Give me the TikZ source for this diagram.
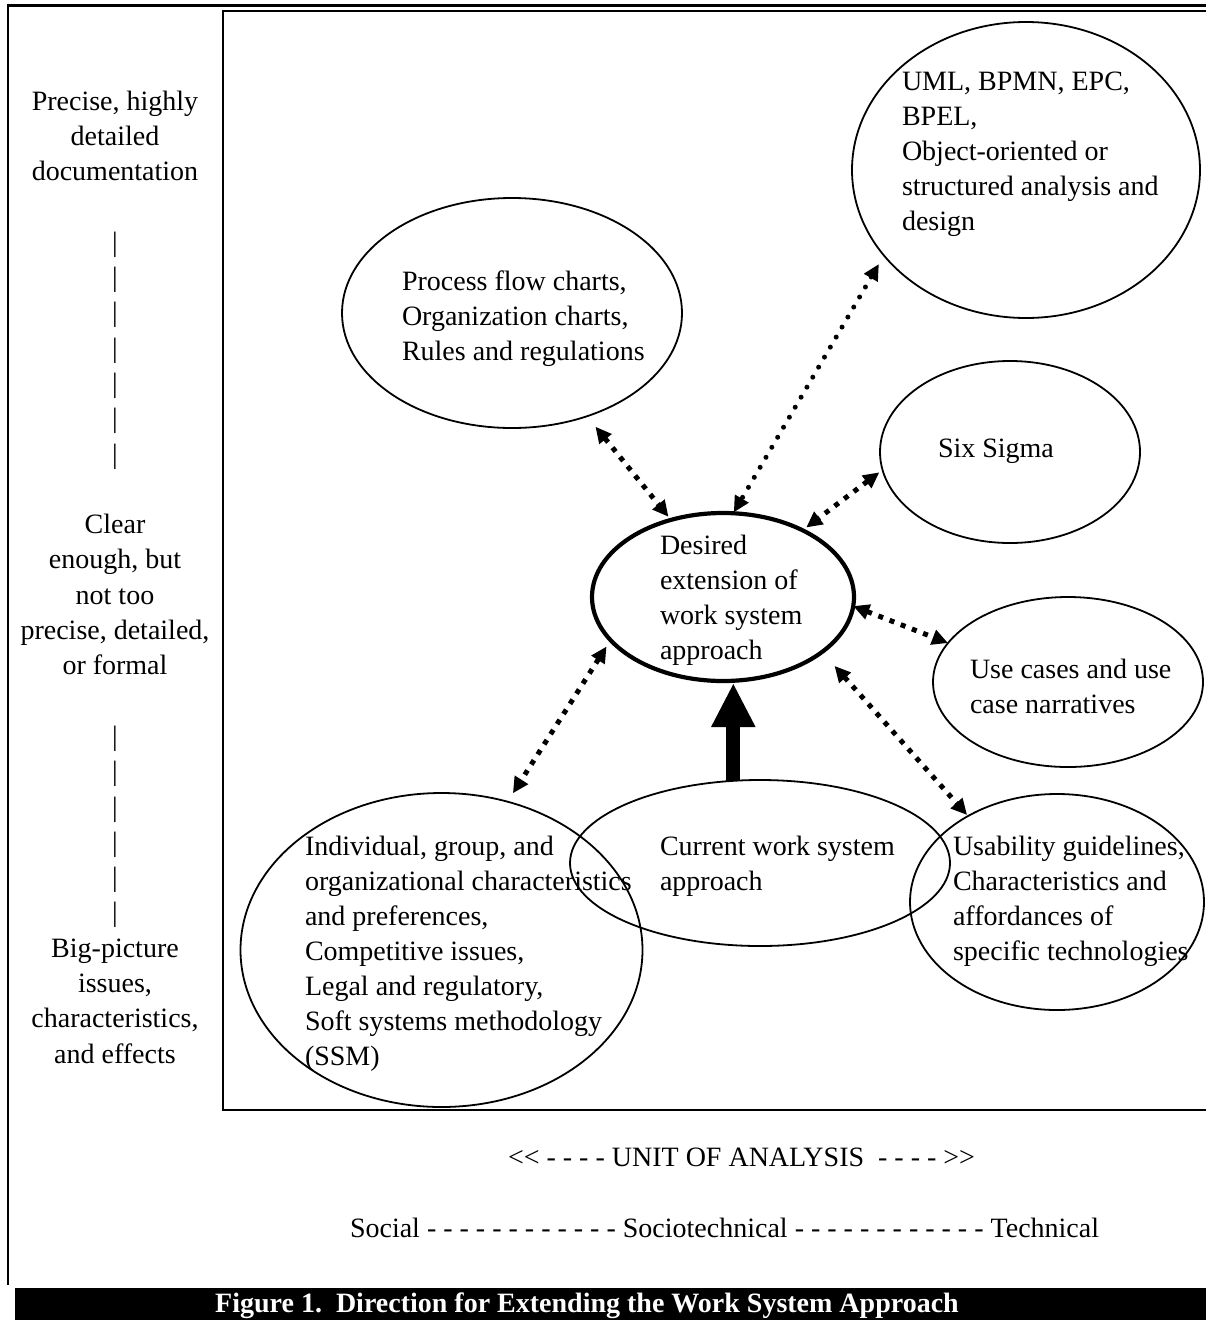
\documentclass[tikz,border=0pt]{standalone}
\usepackage{fontspec}
\setmainfont{Liberation Serif}[Ligatures=TeXOff]
\usetikzlibrary{arrows.meta,shapes.geometric}

\begin{document}
\begin{tikzpicture}[x=1pt,y=-1pt,
  every node/.style={inner sep=0pt,outer sep=0pt},
  % multi-line nodes sit on the baseline of their last line
  body/.style={font=\fontsize{28}{35}\selectfont,align=left,anchor=base west},
  side/.style={font=\fontsize{28}{35.3}\selectfont,align=center,anchor=base},
  oval/.style={ellipse,draw,line width=1.8pt},
  link/.style={line width=5pt,dash pattern=on 5pt off 7pt,
    {Triangle[width=15pt,length=16pt]}-{Triangle[width=15pt,length=16pt]}},
  dotlink/.style={line width=5pt,line cap=round,dash pattern=on 0pt off 11.6pt,
    {Triangle[width=15pt,length=16pt]}-{Triangle[width=15pt,length=16pt]}},
  bigarrow/.style={line width=14pt,-{Triangle[width=41pt,length=44pt]}}]

\useasboundingbox (0,0) rectangle (1206,1320);
\fill[white] (0,0) rectangle (1206,1320);

% frames
\draw[line width=3pt] (8,5) -- (1206,5);
\draw[line width=2pt] (8,3.5) -- (8,1285);
\draw[line width=2.2pt] (1206,11) -- (223,11) -- (223,1110) -- (1206,1110);

% level of detail scale on the left
\node[side] (lvl1) at (115,180.6) {Precise, highly\\detailed\\documentation};
\node[side] (bar1) at (115,463.0) {|\\|\\|\\|\\|\\|\\|};
\node[side] (lvl2) at (115,674.8) {Clear\\enough, but\\not too\\precise, detailed,\\or formal};
\node[side] (bar2) at (115,921.9) {|\\|\\|\\|\\|\\|};
\node[side] (lvl3) at (115,1063.1) {Big-picture\\issues,\\characteristics,\\and effects};

% ovals
\node[oval,minimum width=348pt,minimum height=296pt] (uml) at (1026,170) {};
\node[oval,minimum width=340pt,minimum height=230pt] (proc) at (512,313) {};
\node[oval,minimum width=260pt,minimum height=182pt] (six) at (1010,452) {};
\node[oval,line width=4.2pt,minimum width=262pt,minimum height=168pt] (des) at (723,597) {};
\node[oval,minimum width=270pt,minimum height=170pt] (use) at (1068,682) {};
\node[oval,minimum width=294pt,minimum height=216pt] (usab) at (1057,902) {};
\node[oval,minimum width=380pt,minimum height=166pt] (cur) at (760,863) {};
\node[oval,minimum width=402pt,minimum height=314pt] (ind) at (441.5,950) {};

% oval texts
\node[body] (umltxt) at (902,230) {UML, BPMN, EPC,\\BPEL,\\Object-oriented or\\structured analysis and\\design};
\node[body] (proctxt) at (402,360) {Process flow charts,\\Organization charts,\\Rules and regulations};
\node[body] (sixtxt) at (938,457) {Six Sigma};
\node[body] (destxt) at (660,659) {Desired\\extension of\\work system\\approach};
\node[body] (usetxt) at (970,713) {Use cases and use\\case narratives};
\node[body] (indtxt) at (305,1065) {Individual, group, and\\organizational characteristics\\and preferences,\\Competitive issues,\\Legal and regulatory,\\Soft systems methodology\\(SSM)};
\node[body] (curtxt) at (660,890) {Current work system\\approach};
\node[body] (usabtxt) at (953,960) {Usability guidelines,\\Characteristics and\\affordances of\\specific technologies};

% connectors
\draw[link,shorten <=13.5pt,shorten >=4pt] (proc.-54.3) -- (des.124.3);
\draw[dotlink,shorten <=10pt,shorten >=1pt] (uml.211.6) -- (des.83.9);
\draw[link,shorten <=4pt,shorten >=4.6pt] (six.188.8) -- (des.40.7);
\draw[link] (des.-4) -- (use.162);
\draw[link,shorten <=18.7pt,shorten >=1.4pt] (des.-29.9) -- (usab.136);
\draw[link,shorten <=7.5pt,shorten >=10pt] (des.201.3) -- (ind.66.4);
\draw[bigarrow,shorten >=2pt] (cur.108.2) -- (cur.108.2 |- des.south);

% unit of analysis axis
\node[anchor=base west,font=\fontsize{28}{35}\selectfont] (unit) at (508,1166)
  {<< - - - - UNIT OF ANALYSIS\ \ - - - - >>};
\node[anchor=base west,font=\fontsize{28}{35}\selectfont] (axis) at (350,1237)
  {Social - - - - - - - - - - - - Sociotechnical - - - - - - - - - - - - Technical};

% caption bar
\fill (15,1288) rectangle (1206,1320);
\node[anchor=base,text=white,font=\bfseries\fontsize{28}{35}\selectfont] (cap) at (587,1312)
  {Figure 1.\ \ Direction for Extending the Work System Approach};
\end{tikzpicture}
\end{document}
